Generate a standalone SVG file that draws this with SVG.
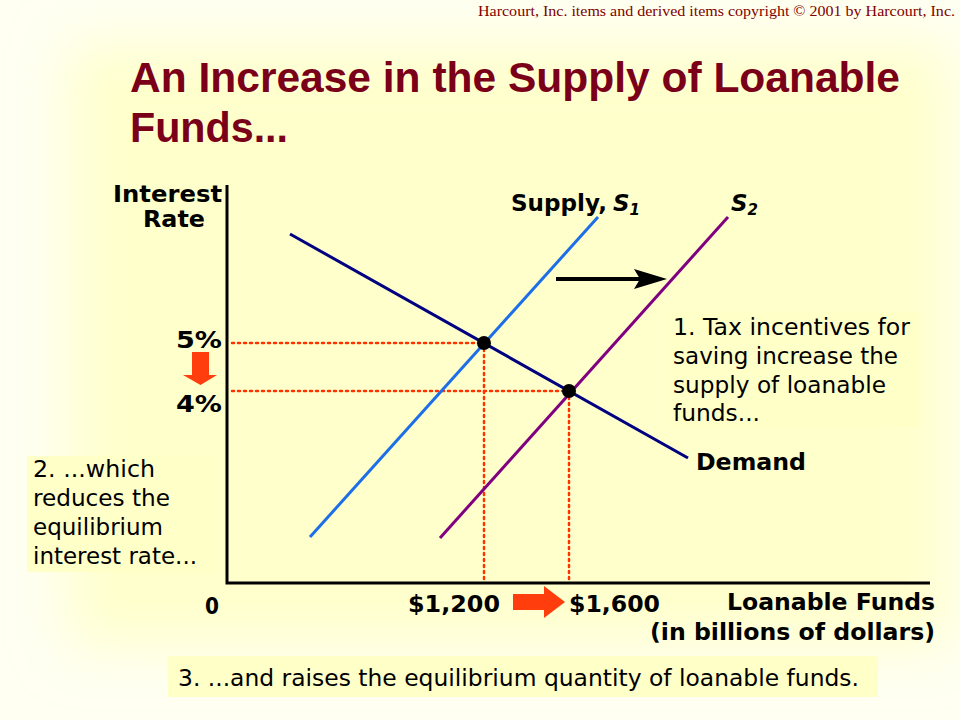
<svg xmlns="http://www.w3.org/2000/svg" width="960" height="720" viewBox="0 0 960 720">
<defs>
<filter id="blur" x="-20%" y="-20%" width="140%" height="140%"><feGaussianBlur stdDeviation="28"/></filter>
<style>
.bold{font-family:"DejaVu Sans",Verdana,sans-serif;font-weight:bold;font-size:23px;fill:#000}
.note{font-family:"DejaVu Sans",Tahoma,sans-serif;font-size:23.5px;fill:#000}
.box{fill:#FFFFC8}
.dot{stroke:#FF3300;stroke-width:2.5;stroke-dasharray:2 4;stroke-linecap:round;fill:none}
.axis{stroke:#000;stroke-width:3;fill:none}
.title{font-family:"Liberation Sans",Arial,sans-serif;font-weight:bold;font-size:43px;fill:#7A0019}
</style>
</defs>
<rect width="960" height="720" fill="#FFFFF2"/>
<rect x="70" y="45" width="880" height="600" fill="#FFFFCC" filter="url(#blur)"/>
<text x="955" y="16" text-anchor="end" font-family="Liberation Serif, Times New Roman, serif" font-size="14" fill="#800000" textLength="477" lengthAdjust="spacingAndGlyphs">Harcourt, Inc. items and derived items copyright © 2001 by Harcourt, Inc.</text>
<g id="title">
<text class="title" x="130" y="92" textLength="770" lengthAdjust="spacingAndGlyphs">An Increase in the Supply of Loanable</text>
<text class="title" x="130" y="142" textLength="158" lengthAdjust="spacingAndGlyphs">Funds...</text>
</g>
<g id="axes">
<polyline class="axis" points="227,185 227,583 930,583"/>
<text class="bold" x="222" y="202" text-anchor="end" textLength="109" lengthAdjust="spacingAndGlyphs">Interest</text>
<text class="bold" x="143" y="227" textLength="62" lengthAdjust="spacingAndGlyphs">Rate</text>
<text class="bold" x="222" y="348" text-anchor="end" textLength="46" lengthAdjust="spacingAndGlyphs">5%</text>
<text class="bold" x="222" y="412" text-anchor="end" textLength="46" lengthAdjust="spacingAndGlyphs">4%</text>
<text class="bold" x="205" y="614" textLength="14" lengthAdjust="spacingAndGlyphs">0</text>
<text class="bold" x="408" y="612" textLength="92" lengthAdjust="spacingAndGlyphs">$1,200</text>
<text class="bold" x="569" y="612" textLength="91" lengthAdjust="spacingAndGlyphs">$1,600</text>
<text class="bold" x="935" y="610" text-anchor="end" textLength="208" lengthAdjust="spacingAndGlyphs">Loanable Funds</text>
<text class="bold" x="935" y="640" text-anchor="end" textLength="285" lengthAdjust="spacingAndGlyphs">(in billions of dollars)</text>
</g>
<g id="connectors">
<line class="dot" x1="232" y1="343" x2="484" y2="343"/>
<line class="dot" x1="232" y1="391" x2="569" y2="391"/>
<line class="dot" x1="484" y1="343" x2="484" y2="581"/>
<line class="dot" x1="569" y1="391" x2="569" y2="581"/>
<line x1="556" y1="279" x2="640" y2="279" stroke="#000" stroke-width="4"/>
<path d="M634,269 L667,279 L634,289 L640,279 Z" fill="#000"/>
<path d="M192,352 H209 V375 H217 L200.5,385 L183,375 H192 Z" fill="#FF3D0D"/>
<path d="M513,594 H544 V586 L565,602 L544,618 V610 H513 Z" fill="#FF3D0D"/>
</g>
<g id="demand">
<line x1="290" y1="234" x2="688" y2="458" stroke="#000080" stroke-width="3"/>
<text class="bold" x="696" y="470" textLength="110" lengthAdjust="spacingAndGlyphs">Demand</text>
</g>
<g id="supply1">
<line x1="310" y1="537" x2="598" y2="217" stroke="#1C6FE8" stroke-width="3"/>
<text class="bold" x="511" y="211"><tspan textLength="96" lengthAdjust="spacingAndGlyphs">Supply,</tspan><tspan font-style="italic" dx="6">S</tspan><tspan font-style="italic" font-size="15" dy="4">1</tspan></text>
</g>
<g id="supply2">
<line x1="440" y1="538" x2="728" y2="217" stroke="#800080" stroke-width="3"/>
<text class="bold" x="731" y="211"><tspan font-style="italic">S</tspan><tspan font-style="italic" font-size="15" dy="4">2</tspan></text>
</g>
<g id="eq1"><circle cx="484" cy="343" r="7" fill="#000"/></g>
<g id="eq2"><circle cx="569" cy="391" r="7" fill="#000"/></g>
<g id="note1">
<rect class="box" x="668" y="312" width="252" height="115"/>
<text class="note" x="673" y="335" textLength="237" lengthAdjust="spacingAndGlyphs">1. Tax incentives for</text>
<text class="note" x="673" y="364" textLength="225" lengthAdjust="spacingAndGlyphs">saving increase the</text>
<text class="note" x="673" y="393" textLength="213" lengthAdjust="spacingAndGlyphs">supply of loanable</text>
<text class="note" x="673" y="421" textLength="87" lengthAdjust="spacingAndGlyphs">funds...</text>
</g>
<g id="note2">
<rect class="box" x="27" y="456" width="188" height="116"/>
<text class="note" x="33" y="477" textLength="122" lengthAdjust="spacingAndGlyphs">2. ...which</text>
<text class="note" x="33" y="506" textLength="137" lengthAdjust="spacingAndGlyphs">reduces the</text>
<text class="note" x="33" y="535" textLength="130" lengthAdjust="spacingAndGlyphs">equilibrium</text>
<text class="note" x="33" y="564" textLength="164" lengthAdjust="spacingAndGlyphs">interest rate...</text>
</g>
<g id="note3">
<rect class="box" x="168" y="656" width="710" height="41"/>
<text class="note" x="178" y="686" textLength="681" lengthAdjust="spacingAndGlyphs">3. ...and raises the equilibrium quantity of loanable funds.</text>
</g>
</svg>
